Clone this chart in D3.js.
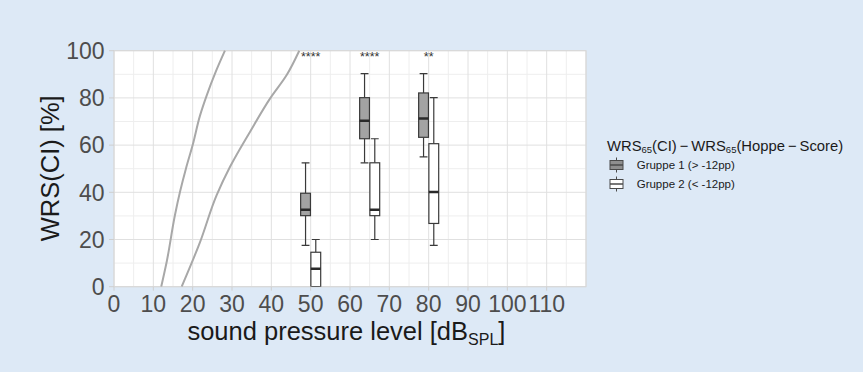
<!DOCTYPE html>
<html><head><meta charset="utf-8">
<script src="https://cdn.jsdelivr.net/npm/d3@7"></script>
<style>
html,body{margin:0;padding:0;background:#dde9f6;}
svg{display:block;font-family:"Liberation Sans",Arial,sans-serif;}
</style></head>
<body><svg id="c" width="863" height="372"></svg>
<script>
// ---- data ----
const levels = [50, 65, 80];
const groups = ["Gruppe 1 (> -12pp)", "Gruppe 2 (< -12pp)"];
// [whiskerLow, q1, median, q3, whiskerHigh]
const gruppe1 = [[17.5, 30.1, 32.6, 39.6, 52.5], [52.5, 62.7, 70.3, 80.1, 90.3], [55, 63.3, 71.3, 82.1, 90.3]];
const gruppe2 = [[0, 0, 7.6, 14.6, 20], [20, 30.1, 32.6, 52.5, 62.7], [17.5, 26.8, 40.1, 60.6, 80.1]];
const signif = ["****", "****", "**"];
const curve1X = [12.0, 13.4, 15.5, 16.8, 18.3, 20.0, 21.9, 23.6, 25.7, 28.2];
const curve1Y = [0, 10.6, 30.4, 40.3, 50.1, 60, 72.7, 81.2, 90.4, 100];
const curve2X = [17.2, 21.9, 26.1, 29.5, 34.6, 39.7, 43.9, 47.1];
const curve2Y = [0, 19, 38.8, 50.8, 65.7, 79.8, 89.7, 100];
const xTicks = [0,10,20,30,40,50,60,70,80,90,100,110];
const yTicks = [0,20,40,60,80,100];

// ---- layout ----
const svg = d3.select("#c");
const L = 114, R = 586, T = 50.7, B = 286.7;
const x = d3.scaleLinear().domain([0,120]).range([L,R]);
const y = d3.scaleLinear().domain([0,100]).range([B,T]);

svg.append("rect").attr("width",863).attr("height",372).attr("fill","#dde9f6");
svg.append("rect").attr("x",L).attr("y",T).attr("width",R-L).attr("height",B-T).attr("fill","#ffffff");

const grid = svg.append("g");
d3.range(5,120,10).forEach(v=>grid.append("line").attr("x1",x(v)).attr("x2",x(v)).attr("y1",T).attr("y2",B).attr("stroke","#eeeeee").attr("stroke-width",1));
d3.range(10,100,20).forEach(v=>grid.append("line").attr("x1",L).attr("x2",R).attr("y1",y(v)).attr("y2",y(v)).attr("stroke","#eeeeee").attr("stroke-width",1));
d3.range(0,121,10).forEach(v=>grid.append("line").attr("x1",x(v)).attr("x2",x(v)).attr("y1",T).attr("y2",B).attr("stroke","#e0e0e0").attr("stroke-width",1));
d3.range(0,101,20).forEach(v=>grid.append("line").attr("x1",L).attr("x2",R).attr("y1",y(v)).attr("y2",y(v)).attr("stroke","#e0e0e0").attr("stroke-width",1));
svg.append("rect").attr("x",L).attr("y",T).attr("width",R-L).attr("height",B-T).attr("fill","none").attr("stroke","#d6d6d6");

svg.append("clipPath").attr("id","pc").append("rect").attr("x",L).attr("y",T-1).attr("width",R-L).attr("height",B-T+1);
const plot = svg.append("g").attr("clip-path","url(#pc)");

// curves
const line = d3.line().x(d=>x(d[0])).y(d=>y(d[1])).curve(d3.curveMonotoneY);
[[curve1X,curve1Y],[curve2X,curve2Y]].forEach(([cx,cy])=>{
  plot.append("path").attr("d",line(cx.map((v,i)=>[v,cy[i]]))).attr("fill","none").attr("stroke","#a8a8a8").attr("stroke-width",2);
});

// boxes
const bw = 2.5, dodge = 1.3;
const fills = ["#a3a3a3","#ffffff"];
[gruppe1,gruppe2].forEach((g,gi)=>{
  g.forEach((s,i)=>{
    const cx = levels[i] + (gi===0?-dodge:dodge);
    const x0 = x(cx-bw/2), x1 = x(cx+bw/2), xc = x(cx);
    const cw = (x1-x0)*0.8;
    const gg = plot.append("g").attr("stroke","#3a3a3a").attr("stroke-width",1.2);
    gg.append("line").attr("x1",xc).attr("x2",xc).attr("y1",y(s[0])).attr("y2",y(s[1]));
    gg.append("line").attr("x1",xc).attr("x2",xc).attr("y1",y(s[3])).attr("y2",y(s[4]));
    gg.append("line").attr("x1",xc-cw/2).attr("x2",xc+cw/2).attr("y1",y(s[0])).attr("y2",y(s[0]));
    gg.append("line").attr("x1",xc-cw/2).attr("x2",xc+cw/2).attr("y1",y(s[4])).attr("y2",y(s[4]));
    gg.append("rect").attr("x",x0).attr("y",y(s[3])).attr("width",x1-x0).attr("height",y(s[1])-y(s[3])).attr("fill",fills[gi]);
    gg.append("line").attr("x1",x0).attr("x2",x1).attr("y1",y(s[2])).attr("y2",y(s[2])).attr("stroke-width",2.4).attr("stroke","#2a2a2a");
  });
});

// significance
levels.forEach((l,i)=>{
  svg.append("text").attr("x",x(l)).attr("y",T+10.5).attr("text-anchor","middle").attr("font-size",12.5).attr("fill","#333").text(signif[i]);
});

// axes
const tickCol = "#cfcfcf", labCol = "#4d4d4d";
xTicks.forEach(v=>{
  svg.append("line").attr("x1",x(v)).attr("x2",x(v)).attr("y1",B).attr("y2",B+4).attr("stroke",tickCol);
  svg.append("text").attr("x",x(v)).attr("y",312.3).attr("text-anchor","middle").attr("font-size",23).attr("fill",labCol).text(v);
});
yTicks.forEach(v=>{
  svg.append("line").attr("x1",L-5).attr("x2",L).attr("y1",y(v)).attr("y2",y(v)).attr("stroke",tickCol);
  svg.append("text").attr("x",104.5).attr("y",y(v)).attr("dy","0.36em").attr("text-anchor","end").attr("font-size",23).attr("fill",labCol).text(v);
});

// axis titles
svg.append("text").attr("transform",`translate(58.5,168.3) rotate(-90)`).attr("text-anchor","middle").attr("font-size",25.5).attr("fill","#1a1a1a").text("WRS(CI) [%]");
const xt = svg.append("text").attr("x",346.4).attr("y",340).attr("text-anchor","middle").attr("font-size",25.5).attr("fill","#1a1a1a");
xt.append("tspan").text("sound pressure level [dB");
xt.append("tspan").attr("font-size",16).attr("dy",4.5).text("SPL");
xt.append("tspan").attr("dy",-4.5).text("]");

// legend
const lt = svg.append("text").attr("x",607).attr("y",150.7).attr("font-size",14.8).attr("fill","#1a1a1a");
lt.append("tspan").text("WRS");
lt.append("tspan").attr("font-size",9.5).attr("dy",2).text("65");
lt.append("tspan").attr("dy",-2).text("(CI)\u2009\u2212\u2009WRS");
lt.append("tspan").attr("font-size",9.5).attr("dy",2).text("65");
lt.append("tspan").attr("dy",-2).text("(Hoppe\u2009\u2212\u2009Score)");
const legY = [165, 184];
groups.forEach((gname,gi)=>{
  const cy = legY[gi], kx0 = 610, kx1 = 623, kc = (kx0+kx1)/2;
  const k = svg.append("g").attr("stroke","#4a4a4a").attr("stroke-width",1);
  k.append("line").attr("x1",kc).attr("x2",kc).attr("y1",cy-7.5).attr("y2",cy+7.5);
  k.append("rect").attr("x",kx0).attr("y",cy-4.5).attr("width",kx1-kx0).attr("height",9).attr("fill",gi===0?"#8f8f8f":"#ffffff");
  k.append("line").attr("x1",kx0).attr("x2",kx1).attr("y1",cy).attr("y2",cy).attr("stroke-width",1.5);
  svg.append("text").attr("x",636.7).attr("y",cy).attr("dy","0.35em").attr("font-size",11.5).attr("fill","#1a1a1a").text(gname);
});
</script></body></html>
